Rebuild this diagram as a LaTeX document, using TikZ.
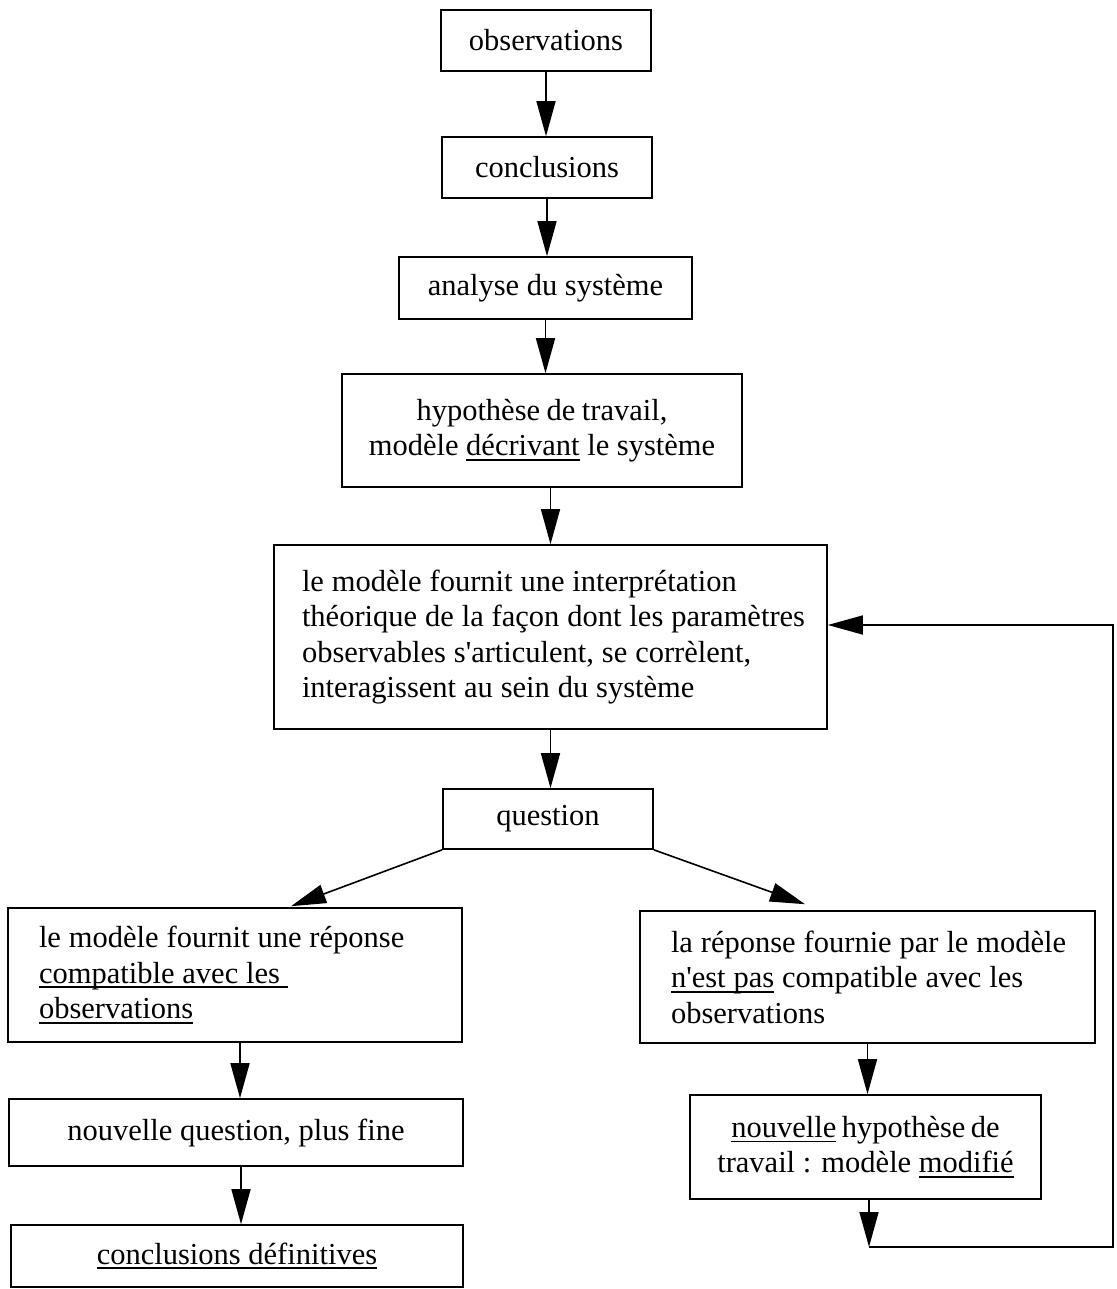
\documentclass[tikz,border=0pt]{standalone}
\usepackage{fontspec}
\setmainfont{Liberation Serif}
\usetikzlibrary{arrows.meta}
\newcommand\ulx[1]{\leavevmode\setbox0\hbox{#1}\rlap{\rule[-5pt]{\wd0}{1.8pt}}\box0\relax}
\newcommand\tsp[1]{\spaceskip=#1 plus 1pt minus 1pt\relax}
\begin{document}
\begin{tikzpicture}[x=1pt,y=-1pt,
  font=\fontsize{30.5}{35.5}\selectfont,
  box/.style={draw, line width=1.6pt, inner sep=0pt, rectangle},
  lbox/.style={box, align=left, text width=#1},
  cbox/.style={box, align=center},
  arr/.style={line width=1.6pt, -{Triangle[length=35pt,width=19pt]}}]
\useasboundingbox (0,0) rectangle (1116,1289);
\fill[white] (0,0) rectangle (1116,1289);

\node[cbox, minimum width=210pt, minimum height=61pt] (obs) at (546,40.5) {observations};
\node[cbox, minimum width=210pt, minimum height=61pt] (concl) at (547,167.5) {conclusions};
\node[cbox, minimum width=293pt, minimum height=62pt] (ana) at (545.5,288) {analyse du système};
\node[cbox, minimum width=400pt, minimum height=113pt] (hyp) at (542,430.5)
  {\tsp{6.5pt}hypothèse de travail,\\ modèle \ulx{décrivant} le système};
\node[lbox=497pt, minimum width=553pt, minimum height=184pt] (mod) at (550.5,637)
  {\tsp{7.9pt}\mbox{le modèle fournit une interprétation}\\
   \mbox{théorique de la façon dont les paramètres}\\
   \mbox{observables s\textquotesingle articulent, se corrèlent,}\\
   \mbox{interagissent au sein du système}};
\node[cbox, minimum width=210pt, minimum height=60pt] (q) at (548,819) {question};

\node[lbox=392pt, minimum width=454pt, minimum height=134pt] (left1) at (235,975)
  {\tsp{7.9pt}\mbox{le modèle fournit une réponse}\\
   \mbox{\ulx{compatible avec les\ }}\\
   \mbox{\ulx{observations}}};
\node[cbox, minimum width=454pt, minimum height=67pt] (nq) at (236,1132.5) {nouvelle question, plus fine};
\node[cbox, minimum width=452pt, minimum height=62pt] (cd) at (237,1256) {\ulx{conclusions définitives}};

\node[lbox=393pt, minimum width=455pt, minimum height=132pt] (right1) at (867.5,977)
  {\tsp{7.9pt}\mbox{la réponse fournie par le modèle}\\
   \mbox{\ulx{n\textquotesingle est pas} compatible avec les}\\
   \mbox{observations}};
\node[cbox, minimum width=351pt, minimum height=104pt] (nh) at (865.5,1147)
  {\tsp{5.5pt}\ulx{nouvelle} hypothèse de\\ travail : modèle \ulx{modifié}};

% connectors
\draw[arr] (obs.south) -- (obs.south |- concl.north);
\draw[arr] (concl.south) -- (concl.south |- ana.north);
\draw[arr] (ana.south) -- (ana.south |- hyp.north);
\draw[arr] (hyp.south -| mod.north) -- (mod.north);
\draw[arr] (mod.south) -- (mod.south |- q.north);

\draw[arr] (q.south west) -- ([xshift=56pt,yshift=1pt]left1.north);
\draw[arr] (q.south east) -- ([xshift=-62.5pt,yshift=6pt]right1.north);

\coordinate (l1s) at ([xshift=5pt]left1.south);
\draw[arr] (l1s) -- (l1s |- nq.north);
\coordinate (nqs) at ([xshift=5pt]nq.south);
\draw[arr] (nqs) -- (nqs |- cd.north);

\draw[arr] (right1.south) -- (right1.south |- nh.north);
\coordinate (nhs) at ([xshift=3.5pt]nh.south);
\coordinate (corner) at (869,1247);
\coordinate (rb) at (1113,1247);
\coordinate (rt) at (1113,625);
\draw[arr] (nhs) -- (nhs |- corner);
\draw[arr] (nhs |- corner) -- (rb) -- (rt) -- (rt -| mod.east);
\end{tikzpicture}
\end{document}
